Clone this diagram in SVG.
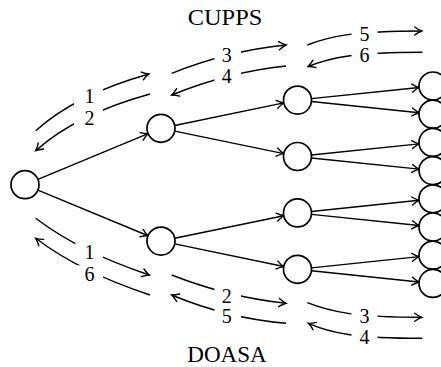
<svg xmlns="http://www.w3.org/2000/svg" width="441" height="367" viewBox="0 0 441 367">
<style>
.node{fill:#fff;stroke:#000;stroke-width:1.7}
.edge{fill:none;stroke:#000;stroke-width:1.4;marker-end:url(#arr)}
.arc{fill:none;stroke:#000;stroke-width:1.4}
.fw{marker-end:url(#arr)}
.bw{marker-start:url(#arr)}
.lbg{fill:#fff;stroke:none}
.lbl{font-family:"Liberation Serif","DejaVu Serif",serif;font-size:20px;text-anchor:middle;fill:#000}
.title{font-family:"Liberation Serif","DejaVu Serif",serif;font-size:23px;text-anchor:middle;fill:#000}
</style>
<defs>
<marker id="arr" viewBox="-10 -6 12 12" refX="0" refY="0" markerWidth="12" markerHeight="12" markerUnits="userSpaceOnUse" orient="auto-start-reverse" overflow="visible">
<path d="M-7,-4 Q-3,-1.1 0,0 Q-3,1.1 -7,4" fill="none" stroke="#000" stroke-width="1.4" stroke-linecap="round"/>
</marker>
</defs>
<g id="connectors">
<line class="edge" x1="37.93" y1="179.34" x2="148.07" y2="133.66"/>
<line class="edge" x1="37.93" y1="190.06" x2="148.07" y2="235.74"/>
<line class="edge" x1="174.71" y1="125.47" x2="283.79" y2="102.93"/>
<line class="edge" x1="174.71" y1="131.13" x2="283.79" y2="153.67"/>
<line class="edge" x1="174.71" y1="238.27" x2="283.79" y2="215.73"/>
<line class="edge" x1="174.71" y1="243.93" x2="283.79" y2="266.47"/>
<line class="edge" x1="311.42" y1="98.65" x2="419.08" y2="87.45"/>
<line class="edge" x1="311.42" y1="101.55" x2="419.08" y2="112.75"/>
<line class="edge" x1="311.42" y1="155.05" x2="419.08" y2="143.85"/>
<line class="edge" x1="311.42" y1="157.95" x2="419.08" y2="169.15"/>
<line class="edge" x1="311.42" y1="211.45" x2="419.08" y2="200.25"/>
<line class="edge" x1="311.42" y1="214.35" x2="419.08" y2="225.55"/>
<line class="edge" x1="311.42" y1="267.85" x2="419.08" y2="256.65"/>
<line class="edge" x1="311.42" y1="270.75" x2="419.08" y2="281.95"/>
<!-- upper arcs -->
<path class="arc fw" d="M35.7,130.7 Q76,94.4 149,74"/>
<path class="arc bw" d="M35.7,150.7 Q76,114.4 150,94"/>
<path class="arc fw" d="M171.7,73.3 Q227.9,50.8 286,45"/>
<path class="arc bw" d="M171.7,95 Q227.9,72.1 286,66"/>
<path class="arc fw" d="M307.3,45 C330,36 355,31 421.7,31"/>
<path class="arc bw" d="M308,66.5 C330.5,57.5 355,52.3 422.3,52.3"/>
<!-- lower arcs -->
<path class="arc fw" d="M35.7,218.3 Q80,252 149.3,275"/>
<path class="arc bw" d="M35.7,238.3 Q80,272 150,295"/>
<path class="arc fw" d="M171.7,275 Q227.9,297.1 286,303.3"/>
<path class="arc bw" d="M171.7,295 Q227.9,318.4 286,323.3"/>
<path class="arc fw" d="M307.3,302.7 C330,311.7 355,317.3 421.7,317.3"/>
<path class="arc bw" d="M308.3,323.3 C330.5,333 355,338.3 422.3,338.3"/>
<!-- label backgrounds -->
<rect class="lbg" x="74" y="87.6" width="29" height="18"/>
<rect class="lbg" x="74" y="108.8" width="29" height="18"/>
<rect class="lbg" x="214.5" y="46" width="26.5" height="18"/>
<rect class="lbg" x="214.5" y="67.6" width="26.5" height="18"/>
<rect class="lbg" x="351.5" y="25" width="26" height="18"/>
<rect class="lbg" x="351.5" y="46.6" width="26" height="18"/>
<rect class="lbg" x="75" y="243.3" width="28" height="18"/>
<rect class="lbg" x="75" y="265.3" width="28" height="18"/>
<rect class="lbg" x="214.5" y="287" width="26.5" height="18"/>
<rect class="lbg" x="214.5" y="307.6" width="26.5" height="18"/>
<rect class="lbg" x="351.5" y="307.6" width="26" height="18"/>
<rect class="lbg" x="351.5" y="328.3" width="26" height="18"/>
<!-- labels -->
<text class="lbl" x="89.5" y="103.3">1</text>
<text class="lbl" x="89.5" y="124.5">2</text>
<text class="lbl" x="226.7" y="61.7">3</text>
<text class="lbl" x="226.7" y="83.3">4</text>
<text class="lbl" x="364.5" y="40.7">5</text>
<text class="lbl" x="364.5" y="62.3">6</text>
<text class="lbl" x="89.5" y="259">1</text>
<text class="lbl" x="89.5" y="281">6</text>
<text class="lbl" x="226.7" y="302.7">2</text>
<text class="lbl" x="226.7" y="323.3">5</text>
<text class="lbl" x="364.5" y="323.3">3</text>
<text class="lbl" x="364.5" y="344">4</text>
</g>
<g id="root"><circle class="node" cx="25" cy="184.7" r="14"/></g>
<g id="n1a"><circle class="node" cx="161" cy="128.3" r="14"/></g>
<g id="n1b"><circle class="node" cx="161" cy="241.1" r="14"/></g>
<g id="n2a"><circle class="node" cx="297.5" cy="100.1" r="14"/></g>
<g id="n2b"><circle class="node" cx="297.5" cy="156.5" r="14"/></g>
<g id="n2c"><circle class="node" cx="297.5" cy="212.9" r="14"/></g>
<g id="n2d"><circle class="node" cx="297.5" cy="269.3" r="14"/></g>
<g id="leaf0"><circle class="node" cx="433" cy="86" r="14"/></g>
<g id="leaf1"><circle class="node" cx="433" cy="114.2" r="14"/></g>
<g id="leaf2"><circle class="node" cx="433" cy="142.4" r="14"/></g>
<g id="leaf3"><circle class="node" cx="433" cy="170.6" r="14"/></g>
<g id="leaf4"><circle class="node" cx="433" cy="198.8" r="14"/></g>
<g id="leaf5"><circle class="node" cx="433" cy="227" r="14"/></g>
<g id="leaf6"><circle class="node" cx="433" cy="255.2" r="14"/></g>
<g id="leaf7"><circle class="node" cx="433" cy="283.4" r="14"/></g>
<g id="titles">
<text class="title" x="225" y="24.7" textLength="74.5" lengthAdjust="spacingAndGlyphs">CUPPS</text>
<text class="title" x="227" y="361.5" textLength="79.5" lengthAdjust="spacingAndGlyphs">DOASA</text>
</g>
</svg>
